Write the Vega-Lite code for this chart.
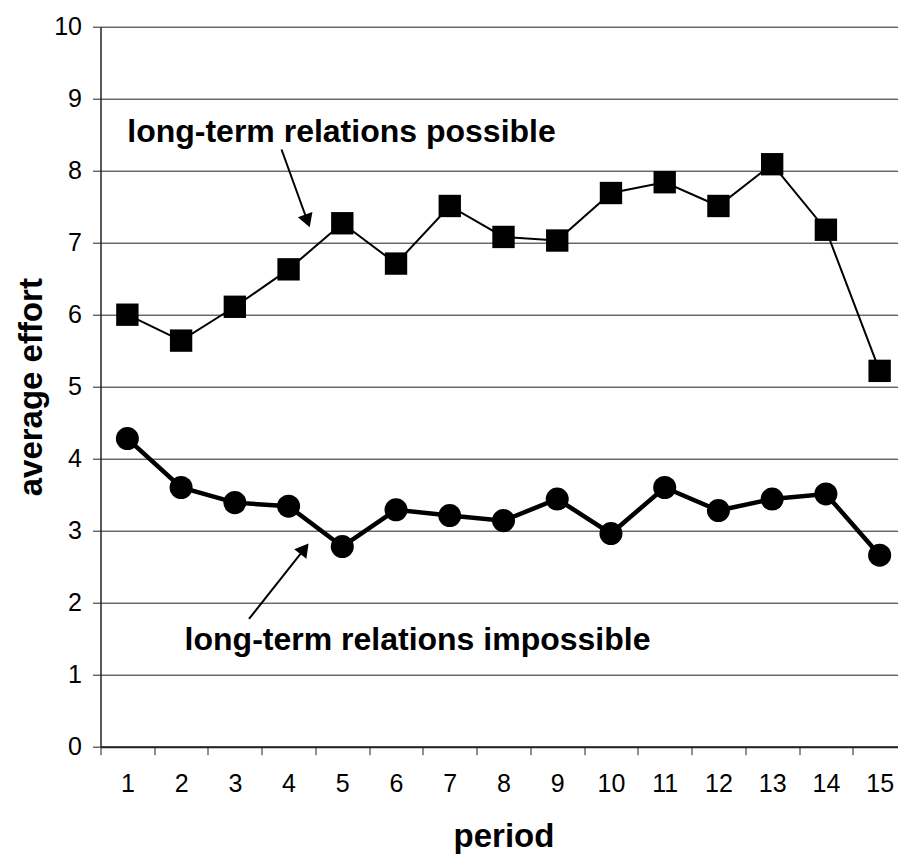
{
  "$schema": "https://vega.github.io/schema/vega-lite/v6.json",
  "width": 798,
  "height": 720,
  "autosize": {"type": "none"},
  "padding": {"left": 100.5, "top": 26.7, "right": 0, "bottom": 108.3},
  "background": "white",
  "config": {
    "view": {"stroke": null},
    "font": "Liberation Sans"
  },
  "datasets": {
    "series": [
      {"period": 1, "group": "possible", "effort": 6.00},
      {"period": 2, "group": "possible", "effort": 5.64},
      {"period": 3, "group": "possible", "effort": 6.11},
      {"period": 4, "group": "possible", "effort": 6.63},
      {"period": 5, "group": "possible", "effort": 7.27},
      {"period": 6, "group": "possible", "effort": 6.71},
      {"period": 7, "group": "possible", "effort": 7.51},
      {"period": 8, "group": "possible", "effort": 7.08},
      {"period": 9, "group": "possible", "effort": 7.03},
      {"period": 10, "group": "possible", "effort": 7.69},
      {"period": 11, "group": "possible", "effort": 7.84},
      {"period": 12, "group": "possible", "effort": 7.51},
      {"period": 13, "group": "possible", "effort": 8.09},
      {"period": 14, "group": "possible", "effort": 7.18},
      {"period": 15, "group": "possible", "effort": 5.22},
      {"period": 1, "group": "impossible", "effort": 4.28},
      {"period": 2, "group": "impossible", "effort": 3.60},
      {"period": 3, "group": "impossible", "effort": 3.39},
      {"period": 4, "group": "impossible", "effort": 3.34},
      {"period": 5, "group": "impossible", "effort": 2.78},
      {"period": 6, "group": "impossible", "effort": 3.29},
      {"period": 7, "group": "impossible", "effort": 3.21},
      {"period": 8, "group": "impossible", "effort": 3.14},
      {"period": 9, "group": "impossible", "effort": 3.44},
      {"period": 10, "group": "impossible", "effort": 2.96},
      {"period": 11, "group": "impossible", "effort": 3.60},
      {"period": 12, "group": "impossible", "effort": 3.28},
      {"period": 13, "group": "impossible", "effort": 3.44},
      {"period": 14, "group": "impossible", "effort": 3.51},
      {"period": 15, "group": "impossible", "effort": 2.66}
    ],
    "labels": [
      {"x": 4.985, "y": 8.40, "text": "long-term relations possible"},
      {"x": 6.40, "y": 1.343, "text": "long-term relations impossible"}
    ],
    "arrows": [
      {"id": "a", "order": 0, "x": 3.869, "y": 8.294},
      {"id": "a", "order": 1, "x": 4.351, "y": 7.301},
      {"id": "b", "order": 0, "x": 3.264, "y": 1.774},
      {"id": "b", "order": 1, "x": 4.295, "y": 2.749}
    ],
    "heads": [
      {"x": 4.351, "y": 7.301, "angle": 160},
      {"x": 4.295, "y": 2.749, "angle": 38}
    ]
  },
  "encoding": {
    "y": {
      "field": "effort",
      "type": "quantitative",
      "scale": {"domain": [0, 10], "nice": false, "zero": true},
      "axis": {
        "title": "average effort",
        "values": [0, 1, 2, 3, 4, 5, 6, 7, 8, 9, 10],
        "grid": true,
        "gridColor": "#222",
        "gridWidth": 1,
        "gridOpacity": 1,
        "domainColor": "#222",
        "domainWidth": 1.5,
        "tickColor": "#222",
        "tickSize": 8,
        "tickWidth": 1,
        "labelFontSize": 25,
        "labelColor": "black",
        "labelPadding": 11,
        "titleFontSize": 33,
        "titleFontWeight": "bold",
        "titleColor": "black",
        "titleAngle": -90,
        "titleBaseline": "alphabetic",
        "titleAlign": "center",
        "titleX": -59.5,
        "titleY": 360
      }
    }
  },
  "layer": [
    {
      "data": {"name": "series"},
      "transform": [{"filter": "datum.group == 'possible'"}],
      "mark": {"type": "line", "color": "black", "strokeWidth": 2},
      "encoding": {
        "x": {
          "field": "period",
          "type": "quantitative",
          "scale": {"domain": [0.5, 15.5], "nice": false, "zero": false, "range": [0, 806]},
          "axis": {
            "title": "period",
            "values": [1, 2, 3, 4, 5, 6, 7, 8, 9, 10, 11, 12, 13, 14, 15],
            "grid": false,
            "tickOffset": -26.87,
            "labelOffset": 26.87,
            "domainColor": "#222",
            "domainWidth": 2,
            "tickColor": "#222",
            "tickSize": 8,
            "tickWidth": 1,
            "labelFontSize": 25,
            "labelColor": "black",
            "labelPadding": 17,
            "labelFlush": false,
            "labelOverlap": false,
            "titleFontSize": 33,
            "titleFontWeight": "bold",
            "titleColor": "black",
            "titleBaseline": "alphabetic",
            "titleX": 403,
            "titleY": 100
          }
        },
        "y": {"field": "effort", "type": "quantitative"}
      }
    },
    {
      "data": {"name": "series"},
      "transform": [{"filter": "datum.group == 'impossible'"}],
      "mark": {"type": "line", "color": "black", "strokeWidth": 4.5},
      "encoding": {
        "x": {"field": "period", "type": "quantitative"},
        "y": {"field": "effort", "type": "quantitative"}
      }
    },
    {
      "data": {"name": "series"},
      "transform": [{"filter": "datum.group == 'possible'"}],
      "mark": {"type": "point", "shape": "square", "filled": true, "color": "black", "size": 500, "opacity": 1},
      "encoding": {
        "x": {"field": "period", "type": "quantitative"},
        "y": {"field": "effort", "type": "quantitative"}
      }
    },
    {
      "data": {"name": "series"},
      "transform": [{"filter": "datum.group == 'impossible'"}],
      "mark": {"type": "point", "shape": "circle", "filled": true, "color": "black", "size": 530, "opacity": 1},
      "encoding": {
        "x": {"field": "period", "type": "quantitative"},
        "y": {"field": "effort", "type": "quantitative"}
      }
    },
    {
      "data": {"name": "arrows"},
      "mark": {"type": "line", "color": "black", "strokeWidth": 2},
      "encoding": {
        "x": {"field": "x", "type": "quantitative"},
        "y": {"field": "y", "type": "quantitative"},
        "detail": {"field": "id"},
        "order": {"field": "order"}
      }
    },
    {
      "data": {"name": "heads"},
      "mark": {"type": "point", "shape": "triangle-up", "filled": true, "color": "black", "size": 240, "opacity": 1},
      "encoding": {
        "x": {"field": "x", "type": "quantitative"},
        "y": {"field": "y", "type": "quantitative"},
        "angle": {"field": "angle", "type": "quantitative", "scale": null}
      }
    },
    {
      "data": {"name": "labels"},
      "mark": {"type": "text", "fontSize": 32, "fontWeight": "bold", "align": "center", "baseline": "alphabetic", "color": "black"},
      "encoding": {
        "x": {"field": "x", "type": "quantitative"},
        "y": {"field": "y", "type": "quantitative"},
        "text": {"field": "text"}
      }
    }
  ]
}
